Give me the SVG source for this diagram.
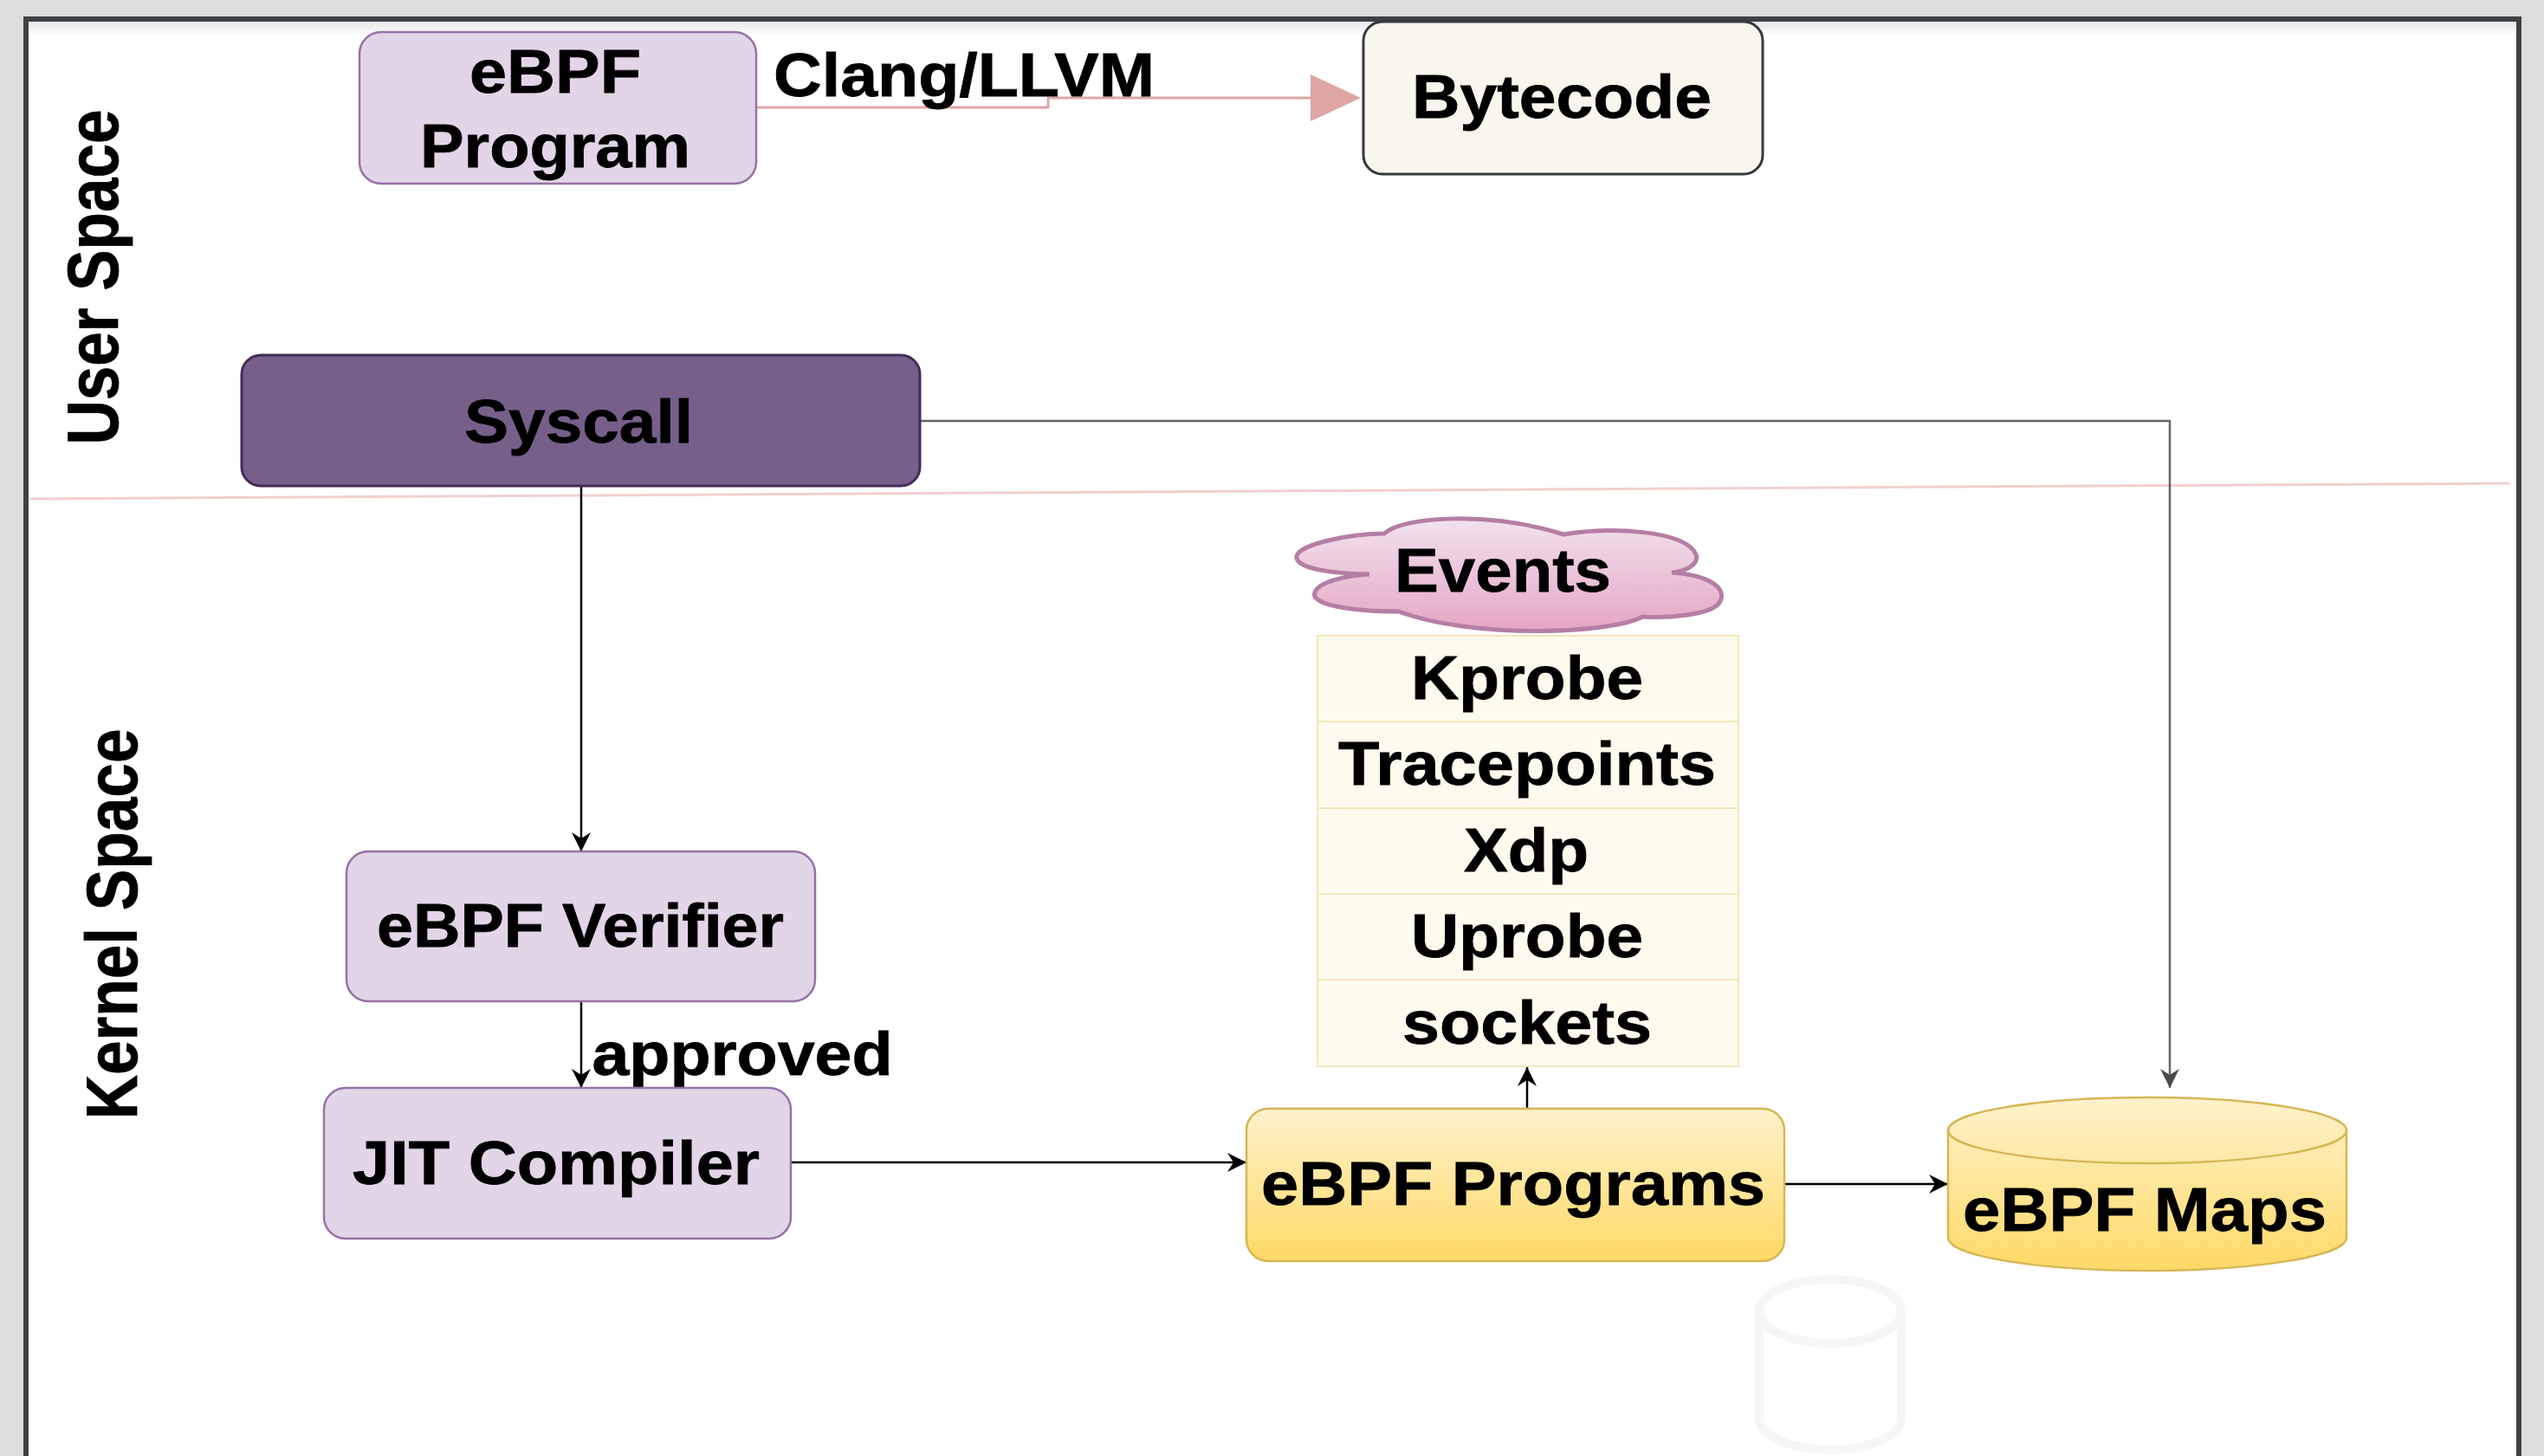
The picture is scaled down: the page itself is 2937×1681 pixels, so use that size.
<svg xmlns="http://www.w3.org/2000/svg" width="2937" height="1681" viewBox="0 0 2937 1681">
  <style>
    .lbl { font-family: "Liberation Sans", Arial, Helvetica, sans-serif; font-weight: bold; font-size: 70px; fill: #000; stroke: #000; stroke-width: 0.8; text-anchor: middle; }
    .lane { font-size: 84px; }
    .purple { fill: #e1d5e7; stroke: #9673a6; stroke-width: 2.5; }
    .edge { fill: none; stroke: #000; stroke-width: 2.5; }
    .edge-gray { fill: none; stroke: #666; stroke-width: 2.5; }
    .row { fill: #fffaee; stroke: #f4e6bd; stroke-width: 2; }
  </style>
  <defs>
    <linearGradient id="yellowGrad" x1="0" y1="0" x2="0" y2="1">
      <stop offset="0" stop-color="#fff2cc"/>
      <stop offset="1" stop-color="#ffd966"/>
    </linearGradient>
    <linearGradient id="cloudGrad" x1="0" y1="0" x2="0" y2="1">
      <stop offset="0" stop-color="#f2e2ee"/>
      <stop offset="1" stop-color="#e4a6c3"/>
    </linearGradient>
    <linearGradient id="topShade" x1="0" y1="0" x2="0" y2="1">
      <stop offset="0" stop-color="#e6e6e6"/>
      <stop offset="1" stop-color="#ffffff"/>
    </linearGradient>
    <marker id="arrowBlack" viewBox="0 0 22 22" refX="22" refY="11" markerWidth="22" markerHeight="22" markerUnits="userSpaceOnUse" orient="auto">
      <path d="M0,0 L22,11 L0,22 L7,11 Z" fill="#000"/>
    </marker>
    <marker id="arrowGray" viewBox="0 0 22 22" refX="22" refY="11" markerWidth="22" markerHeight="22" markerUnits="userSpaceOnUse" orient="auto">
      <path d="M0,0 L22,11 L0,22 L7,11 Z" fill="#4a4a4a"/>
    </marker>
  </defs>

  <!-- page background and frame -->
  <rect x="0" y="0" width="2937" height="1681" fill="#dddddd"/>
  <rect x="30" y="22" width="2878" height="1670" fill="#ffffff" stroke="#3e4144" stroke-width="6"/>
  <rect x="33" y="25" width="2872" height="16" fill="url(#topShade)"/>

  <!-- user / kernel space divider -->
  <line x1="35" y1="576" x2="2897" y2="558" stroke="#f2d0d0" stroke-width="3"/>

  <!-- swimlane labels -->
  <text class="lbl lane" transform="translate(136,320) rotate(-90)" textLength="387" lengthAdjust="spacingAndGlyphs">User Space</text>
  <text class="lbl lane" transform="translate(158,1067) rotate(-90)" textLength="451" lengthAdjust="spacingAndGlyphs">Kernel Space</text>

  <!-- faint background cylinder -->
  <g id="ghost-cylinder" fill="none" stroke="#f5f6f5" stroke-width="10">
    <path d="M2031 1514 A82 37 0 0 1 2195 1514 L2195 1637 A82 37 0 0 1 2031 1637 Z"/>
    <path d="M2031 1514 A82 37 0 0 0 2195 1514"/>
  </g>

  <!-- connectors -->
  <g id="connectors">
    <polyline points="873,124 1210,124 1210,113 1515,113" fill="none" stroke="#dea5a5" stroke-width="3"/>
    <path d="M1513 86 L1571 113 L1513 140 Z" fill="#dea5a5"/>
    <polyline class="edge-gray" points="1062,486 2505,486 2505,1256" marker-end="url(#arrowGray)"/>
    <line class="edge" x1="671" y1="561" x2="671" y2="983" marker-end="url(#arrowBlack)"/>
    <line class="edge" x1="671" y1="1156" x2="671" y2="1256" marker-end="url(#arrowBlack)"/>
    <line class="edge" x1="913" y1="1342" x2="1439" y2="1342" marker-end="url(#arrowBlack)"/>
    <line class="edge" x1="1763" y1="1280" x2="1763" y2="1232" marker-end="url(#arrowBlack)"/>
    <line class="edge" x1="2060" y1="1367" x2="2249" y2="1367" marker-end="url(#arrowBlack)"/>
  </g>

  <!-- edge labels -->
  <text class="lbl" x="1113" y="111" textLength="440" lengthAdjust="spacingAndGlyphs">Clang/LLVM</text>
  <text class="lbl" x="857" y="1241" textLength="347" lengthAdjust="spacingAndGlyphs">approved</text>

  <g id="ebpf-program">
    <rect class="purple" x="415" y="37" width="458" height="175" rx="25"/>
    <text class="lbl" x="641" y="107" textLength="198" lengthAdjust="spacingAndGlyphs">eBPF</text>
    <text class="lbl" x="641" y="193" textLength="312" lengthAdjust="spacingAndGlyphs">Program</text>
  </g>

  <g id="bytecode">
    <rect x="1574" y="25" width="461" height="176" rx="22" fill="#f9f7ed" stroke="#36393d" stroke-width="3"/>
    <text class="lbl" x="1803" y="136" textLength="346" lengthAdjust="spacingAndGlyphs">Bytecode</text>
  </g>

  <g id="syscall">
    <rect x="279" y="410" width="783" height="151" rx="22" fill="#76608a" stroke="#432d57" stroke-width="3"/>
    <text class="lbl" x="668" y="511" textLength="264" lengthAdjust="spacingAndGlyphs">Syscall</text>
  </g>

  <g id="ebpf-verifier">
    <rect class="purple" x="400" y="983" width="541" height="173" rx="25"/>
    <text class="lbl" x="670" y="1093" textLength="470" lengthAdjust="spacingAndGlyphs">eBPF Verifier</text>
  </g>

  <g id="jit-compiler">
    <rect class="purple" x="374" y="1256" width="539" height="174" rx="25"/>
    <text class="lbl" x="642" y="1367" textLength="470" lengthAdjust="spacingAndGlyphs">JIT Compiler</text>
  </g>

  <g id="events">
    <path d="M1598 616 C1620 596 1720 590 1805 617 C1860 608 1945 612 1958 640 C1962 652 1945 660 1930 661 C1975 664 1995 680 1985 696 C1975 710 1925 714 1896 712 C1860 732 1700 738 1615 706 C1560 706 1512 698 1518 684 C1522 672 1555 664 1581 663 C1530 662 1495 655 1497 642 C1500 628 1560 616 1598 616 Z" fill="url(#cloudGrad)" stroke="#b57ea4" stroke-width="5"/>
    <text class="lbl" x="1735" y="683" textLength="250" lengthAdjust="spacingAndGlyphs">Events</text>
  </g>

  <g id="event-types">
    <rect class="row" x="1521" y="734" width="486" height="99"/>
    <rect class="row" x="1521" y="833" width="486" height="100"/>
    <rect class="row" x="1521" y="933" width="486" height="99"/>
    <rect class="row" x="1521" y="1032" width="486" height="99"/>
    <rect class="row" x="1521" y="1131" width="486" height="100"/>
    <text class="lbl" x="1763" y="807" textLength="268" lengthAdjust="spacingAndGlyphs">Kprobe</text>
    <text class="lbl" x="1763" y="906" textLength="436" lengthAdjust="spacingAndGlyphs">Tracepoints</text>
    <text class="lbl" x="1762" y="1006" textLength="144" lengthAdjust="spacingAndGlyphs">Xdp</text>
    <text class="lbl" x="1763" y="1105" textLength="268" lengthAdjust="spacingAndGlyphs">Uprobe</text>
    <text class="lbl" x="1763" y="1205" textLength="288" lengthAdjust="spacingAndGlyphs">sockets</text>
  </g>

  <g id="ebpf-programs">
    <rect x="1439" y="1280" width="621" height="176" rx="25" fill="url(#yellowGrad)" stroke="#d6b656" stroke-width="2.5"/>
    <text class="lbl" x="1747" y="1391" textLength="582" lengthAdjust="spacingAndGlyphs">eBPF Programs</text>
  </g>

  <g id="ebpf-maps">
    <path d="M2249 1305 A230 38 0 0 1 2709 1305 L2709 1429 A230 38 0 0 1 2249 1429 Z" fill="url(#yellowGrad)" stroke="#d6b656" stroke-width="2.5"/>
    <path d="M2249 1305 A230 38 0 0 0 2709 1305" fill="none" stroke="#d6b656" stroke-width="2.5"/>
    <text class="lbl" x="2476" y="1421" textLength="420" lengthAdjust="spacingAndGlyphs">eBPF Maps</text>
  </g>
</svg>
